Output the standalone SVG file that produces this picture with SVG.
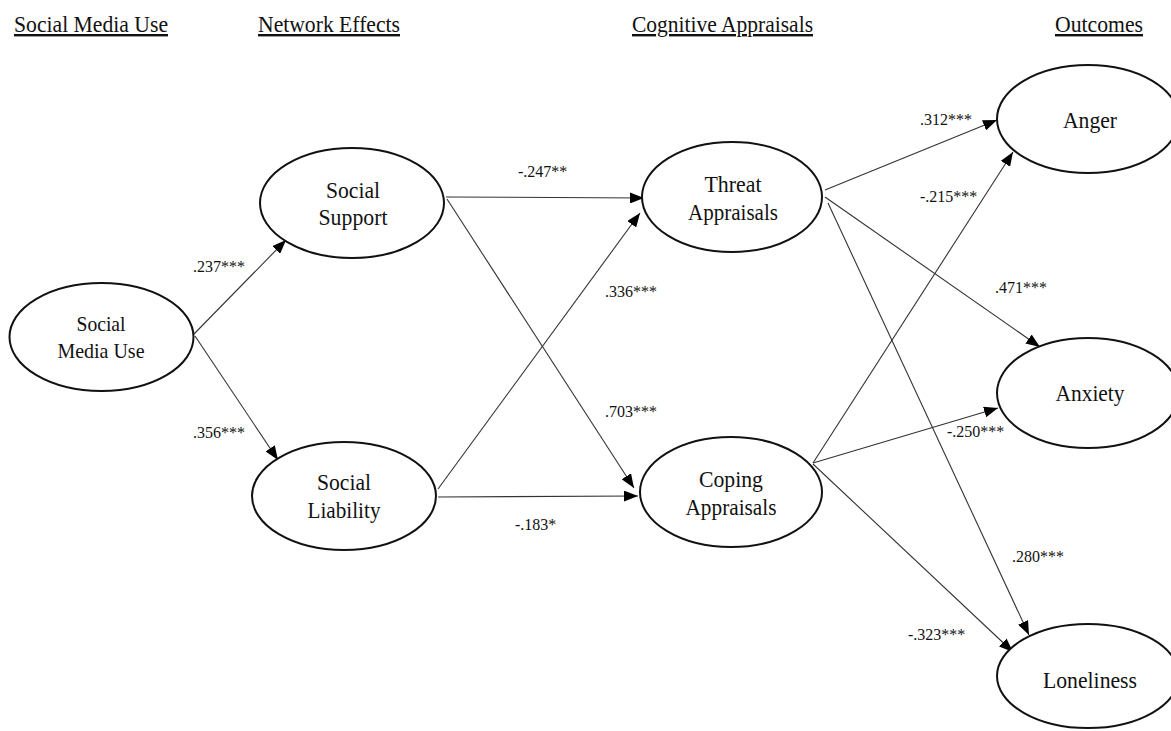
<svg xmlns="http://www.w3.org/2000/svg" width="1171" height="731" viewBox="0 0 1171 731">
<defs>
<style>
.hdr{font-family:"Liberation Serif","Times New Roman",serif;font-size:24px;fill:#111;text-decoration:underline;}
.node ellipse{fill:#fff;stroke:#111;stroke-width:2;}
.node text{font-family:"Liberation Serif","Times New Roman",serif;font-size:24px;fill:#111;text-anchor:middle;}
.node text.sm{font-size:22px;}
.edges line{stroke:#333;stroke-width:1.1;marker-end:url(#arr);}
.lbl{font-family:"Liberation Serif","Times New Roman",serif;font-size:16px;fill:#111;}
</style>
<marker id="arr" markerUnits="userSpaceOnUse" markerWidth="14" markerHeight="11" viewBox="0 0 14 11" refX="14" refY="5.5" orient="auto">
<path d="M0,0 L14,5.5 L0,11 z" fill="#000"/>
</marker>
</defs>
<rect width="1171" height="731" fill="#fff"/>
<g id="headers">
<text class="hdr" x="14" y="32" textLength="154" lengthAdjust="spacingAndGlyphs">Social Media Use</text>
<text class="hdr" x="258" y="32" textLength="142" lengthAdjust="spacingAndGlyphs">Network Effects</text>
<text class="hdr" x="632" y="32" textLength="181" lengthAdjust="spacingAndGlyphs">Cognitive Appraisals</text>
<text class="hdr" x="1055" y="32" textLength="88" lengthAdjust="spacingAndGlyphs">Outcomes</text>
</g>
<g id="connectors" class="edges">
<line x1="194" y1="334" x2="286" y2="240"/>
<line x1="195" y1="336" x2="278" y2="460"/>
<line x1="446" y1="197" x2="644" y2="198"/>
<line x1="447" y1="199" x2="634" y2="488"/>
<line x1="438" y1="489" x2="640" y2="213"/>
<line x1="438" y1="497" x2="638" y2="496"/>
<line x1="825" y1="190" x2="997" y2="120"/>
<line x1="825" y1="197" x2="1040" y2="347"/>
<line x1="828" y1="203" x2="1029" y2="635"/>
<line x1="813" y1="463" x2="1013" y2="152"/>
<line x1="813" y1="463" x2="998" y2="408"/>
<line x1="813" y1="464" x2="1013" y2="652"/>
</g>
<g id="edge-labels">
<text class="lbl" x="193" y="272">.237***</text>
<text class="lbl" x="193" y="438">.356***</text>
<text class="lbl" x="518" y="177">-.247**</text>
<text class="lbl" x="605" y="297">.336***</text>
<text class="lbl" x="605" y="417">.703***</text>
<text class="lbl" x="515" y="530">-.183*</text>
<text class="lbl" x="920" y="125">.312***</text>
<text class="lbl" x="920" y="202">-.215***</text>
<text class="lbl" x="995" y="293">.471***</text>
<text class="lbl" x="947" y="437">-.250***</text>
<text class="lbl" x="1012" y="562">.280***</text>
<text class="lbl" x="908" y="640">-.323***</text>
</g>
<g id="node-smu" class="node">
<ellipse cx="101.5" cy="337" rx="92" ry="54"/>
<text class="sm" x="101" y="331" textLength="49" lengthAdjust="spacingAndGlyphs">Social</text>
<text class="sm" x="101" y="358" textLength="87" lengthAdjust="spacingAndGlyphs">Media Use</text>
</g>
<g id="node-support" class="node">
<ellipse cx="352" cy="203" rx="92" ry="55"/>
<text x="353" y="198" textLength="54" lengthAdjust="spacingAndGlyphs">Social</text>
<text x="353" y="225" textLength="69" lengthAdjust="spacingAndGlyphs">Support</text>
</g>
<g id="node-liability" class="node">
<ellipse cx="344" cy="496" rx="92" ry="54"/>
<text x="344" y="490" textLength="54" lengthAdjust="spacingAndGlyphs">Social</text>
<text x="344" y="518" textLength="73" lengthAdjust="spacingAndGlyphs">Liability</text>
</g>
<g id="node-threat" class="node">
<ellipse cx="732" cy="197" rx="90" ry="55"/>
<text x="733" y="192" textLength="57" lengthAdjust="spacingAndGlyphs">Threat</text>
<text x="733" y="220" textLength="90" lengthAdjust="spacingAndGlyphs">Appraisals</text>
</g>
<g id="node-coping" class="node">
<ellipse cx="731" cy="492" rx="91" ry="55"/>
<text x="731" y="487" textLength="64" lengthAdjust="spacingAndGlyphs">Coping</text>
<text x="731" y="515" textLength="91" lengthAdjust="spacingAndGlyphs">Appraisals</text>
</g>
<g id="node-anger" class="node">
<ellipse cx="1088" cy="119" rx="91" ry="54"/>
<text x="1090" y="128" textLength="54" lengthAdjust="spacingAndGlyphs">Anger</text>
</g>
<g id="node-anxiety" class="node">
<ellipse cx="1088" cy="393" rx="91" ry="55"/>
<text x="1090" y="401" textLength="69" lengthAdjust="spacingAndGlyphs">Anxiety</text>
</g>
<g id="node-loneliness" class="node">
<ellipse cx="1088" cy="676" rx="91" ry="52"/>
<text x="1090" y="688" textLength="94" lengthAdjust="spacingAndGlyphs">Loneliness</text>
</g>
</svg>
